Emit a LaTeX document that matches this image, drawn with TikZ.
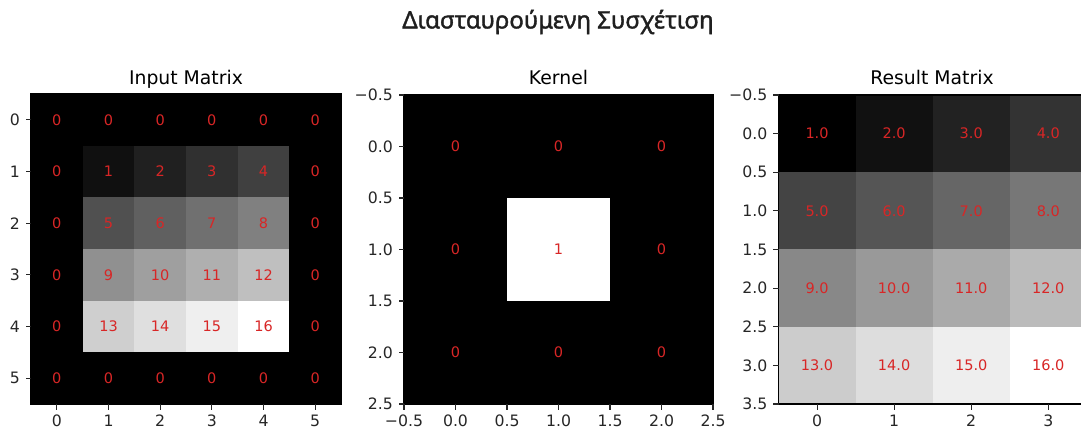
\documentclass[tikz,border=0pt]{standalone}
\usepackage{fontspec}
\setmainfont{DejaVu Sans}
\newfontfamily\titlefont[FakeBold=1.6]{Noto Sans}
\usetikzlibrary{positioning}
\definecolor{numc}{HTML}{D82626}
\newcommand{\pxfont}[1]{\fontsize{#1}{#1}\selectfont}

\begin{document}
\begin{tikzpicture}[x=1pt, y=-1pt,
  cellnum/.style={text=numc, font=\pxfont{14.5}, inner sep=0pt},
  ticklab/.style={font=\pxfont{15.7}, inner sep=0pt, text=black!85},
  paneltitle/.style={font=\pxfont{18.8}, anchor=base, inner sep=0pt},
  spine/.style={draw=black, line width=1.1pt},
  tickmark/.style={line width=1.1pt, black!85}]
  \useasboundingbox (0,0) rectangle (1081,430);
  \clip (0,0) rectangle (1081,430);

  \node[font=\titlefont\pxfont{24}, text=black!88] (title) at (558,22) {Διασταυρούμενη Συσχέτιση};

  % input matrix (zero padded 6x6)
  \def\cin{51.67}
  \foreach \r in {0,...,5}{
    \foreach \c in {0,...,5}{
      \pgfmathtruncatemacro{\ok}{(\r>0)&&(\r<5)&&(\c>0)&&(\c<5)}
      \pgfmathtruncatemacro{\v}{\ok*((\r-1)*4+\c)}
      \pgfmathsetmacro{\pct}{\v*100/16}
      \fill[white!\pct!black] ({31+\c*\cin},{94+\r*\cin}) rectangle ++(\cin,\cin);
      \node[cellnum] (in-\r-\c) at ({31+(\c+0.5)*\cin},{94+(\r+0.5)*\cin}) {\v};
    }
  }
  \draw[spine] (31,94) rectangle (341,404);
  \foreach \i in {0,...,5}{
    \draw[tickmark] (31,{94+(\i+0.5)*\cin}) -- ++(-5.5,0);
    \node[ticklab, anchor=east] (iny-\i) at (20,{94+(\i+0.5)*\cin}) {\i};
    \draw[tickmark] ({31+(\i+0.5)*\cin},404) -- ++(0,5.5);
    \node[ticklab, anchor=north] (inx-\i) at ({31+(\i+0.5)*\cin},415) {\i};
  }
  \node[paneltitle] (intitle) at (186,85) {Input Matrix};

  % kernel (3x3)
  \foreach \r in {0,1,2}{
    \foreach \c in {0,1,2}{
      \pgfmathtruncatemacro{\v}{(\r==1)&&(\c==1)}
      \pgfmathsetmacro{\pct}{\v*100}
      \fill[white!\pct!black] ({404+\c*103},{95+\r*103}) rectangle ++(103,103);
      \node[cellnum] (kr-\r-\c) at ({404+(\c+0.5)*103},{95+(\r+0.5)*103}) {\v};
    }
  }
  \draw[spine] (404,95) rectangle (713,404);
  \foreach \k/\lab in {0/−0.5,1/0.0,2/0.5,3/1.0,4/1.5,5/2.0,6/2.5}{
    \draw[tickmark] (404,{95+\k*51.5}) -- ++(-5.5,0);
    \node[ticklab, anchor=east] (kry-\k) at (393,{95+\k*51.5}) {\lab};
    \draw[tickmark] ({404+\k*51.5},404) -- ++(0,5.5);
    \node[ticklab, anchor=north] (krx-\k) at ({404+\k*51.5},415) {\lab};
  }
  \node[paneltitle] (krtitle) at (558.5,85) {Kernel};

  % result matrix (4x4)
  \def\cw{77.08}
  \def\ch{77.25}
  \foreach \r in {0,...,3}{
    \foreach \c in {0,...,3}{
      \pgfmathtruncatemacro{\v}{\r*4+\c+1}
      \pgfmathsetmacro{\pct}{(\v-1)*100/15}
      \fill[white!\pct!black] ({778.5+\c*\cw},{95+\r*\ch}) rectangle ++(\cw,\ch);
      \node[cellnum] (res-\r-\c) at ({778.5+(\c+0.5)*\cw},{95+(\r+0.5)*\ch}) {\v.0};
    }
  }
  \draw[spine] (778.5,95) rectangle (1086.8,404);
  \foreach \k/\lab in {0/−0.5,1/0.0,2/0.5,3/1.0,4/1.5,5/2.0,6/2.5,7/3.0,8/3.5}{
    \draw[tickmark] (778.5,{95+\k*38.625}) -- ++(-5.5,0);
    \node[ticklab, anchor=east] (resy-\k) at (767.5,{95+\k*38.625}) {\lab};
  }
  \foreach \i in {0,...,3}{
    \draw[tickmark] ({778.5+(\i+0.5)*\cw},404) -- ++(0,5.5);
    \node[ticklab, anchor=north] (resx-\i) at ({778.5+(\i+0.5)*\cw},415) {\i};
  }
  \node[paneltitle] (restitle) at (932,85) {Result Matrix};
\end{tikzpicture}
\end{document}
